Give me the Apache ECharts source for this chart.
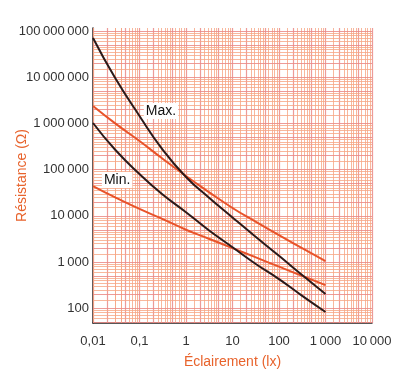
<!DOCTYPE html>
<html>
<head>
<meta charset="utf-8">
<script src="https://cdn.jsdelivr.net/npm/echarts@6/dist/echarts.min.js"></script>
<style>
  html, body { margin: 0; padding: 0; background: #fff; }
  #chart { width: 398px; height: 370px; }
</style>
</head>
<body>
<div id="chart"></div>
<script>
// éclairement (lx) en abscisse
var lux = [0.01, 0.03, 0.1, 0.3, 1, 3, 10, 30, 100, 300, 1000];
// courbes noires (max / min)
var maxDark = [70500000, 9600000, 1450000, 288000, 69200, 25700, 9230, 3670, 1365, 543, 204];
var minDark = [1020000, 269000, 80400, 30200, 12000, 5010, 2090, 944, 427, 193, 83];
// courbes orange (max / min)
var maxLight = [2380000, 1000000, 416000, 178000, 72600, 33500, 14800, 7670, 3840, 2040, 1050];
var minLight = [44200, 25100, 14100, 8710, 5010, 3240, 2000, 1290, 794, 513, 316];
// étiquettes Max. / Min.
var tagNames = ['Max.', 'Min.'];
var tagX = [0.29, 0.033];
var tagY = [1860000, 59600];

var xMin = 0.01, xMax = 10000;
var yMin = 48, yMax = 116000000;

// lignes du papier log
var paperSteps = [1, 1.5, 2, 2.5, 3, 3.5, 4, 4.5, 5, 6, 7, 8, 9];

function fmt(v) {
  if (v < 1) return String(v).replace('.', ',');
  var s = String(Math.round(v));
  var out = '';
  while (s.length > 3) {
    out = '\u2009' + s.slice(-3) + out;
    s = s.slice(0, -3);
  }
  return s + out;
}
function isPow(v) {
  var l = Math.log10(v);
  return Math.abs(l - Math.round(l)) < 0.001;
}

function paperLines(axis, lo, hi) {
  var res = [];
  for (var e = -3; e <= 9; e++) {
    paperSteps.forEach(function (s) {
      var v = s * Math.pow(10, e);
      if (v < lo * 0.999 || v > hi * 1.001) return;
      var strong = (s === 1 || s === 5 || s === 2);
      var d = {};
      d[axis] = v;
      d.lineStyle = {
        color: strong ? '#ea8a86' : '#f6a685',
        width: strong ? 1.2 : 1,
        type: 'solid',
        opacity: strong ? 0.85 : 0.8
      };
      res.push(d);
    });
  }
  return res;
}

function pairs(ys) {
  return lux.map(function (x, i) { return [x, ys[i]]; });
}

var chart = echarts.init(document.getElementById('chart'), null, { renderer: 'canvas' });

var curveBase = {
  type: 'line',
  smooth: 0.5,
  showSymbol: false,
  symbol: 'none',
  z: 5,
  silent: true
};

var option = {
  backgroundColor: '#fff',
  animation: false,
  grid: { left: 93, right: 26, top: 28, bottom: 47, outerBoundsMode: 'none', containLabel: false },
  xAxis: {
    type: 'log',
    logBase: 10,
    min: xMin,
    max: xMax,
    name: 'Éclairement (lx)',
    nameLocation: 'middle',
    nameGap: 32,
    nameMoveOverlap: false,
    nameTextStyle: { color: '#e8632c', fontSize: 14, fontFamily: 'Liberation Sans' },
    axisLine: { show: true, lineStyle: { color: '#222', width: 1.5 } },
    axisTick: { show: false },
    splitLine: { show: false },
    axisLabel: {
      color: '#333',
      fontSize: 13,
      fontFamily: 'Liberation Sans',
      margin: 12,
      hideOverlap: false,
      formatter: function (v) { return isPow(v) ? fmt(v) : ''; }
    }
  },
  yAxis: {
    type: 'log',
    logBase: 10,
    min: yMin,
    max: yMax,
    splitNumber: 7,
    name: 'Résistance (Ω)',
    nameLocation: 'middle',
    nameGap: 64,
    nameMoveOverlap: false,
    nameTextStyle: { color: '#e8632c', fontSize: 14, fontFamily: 'Liberation Sans' },
    axisLine: { show: true, lineStyle: { color: '#222', width: 1.5 } },
    axisTick: { show: false },
    splitLine: { show: false },
    axisLabel: {
      color: '#333',
      fontSize: 13,
      fontFamily: 'Liberation Sans',
      margin: 4,
      showMinLabel: false,
      showMaxLabel: false,
      formatter: function (v) { return isPow(v) ? fmt(v) : ''; }
    }
  },
  series: [
    {
      type: 'line',
      data: [],
      silent: true,
      z: 1,
      markLine: {
        silent: true,
        symbol: ['none', 'none'],
        label: { show: false },
        animation: false,
        data: paperLines('xAxis', xMin, xMax).concat(paperLines('yAxis', yMin, yMax))
      }
    },
    Object.assign({}, curveBase, {
      name: 'maxLight',
      data: pairs(maxLight),
      lineStyle: { color: '#e8532a', width: 2 }
    }),
    Object.assign({}, curveBase, {
      name: 'minLight',
      data: pairs(minLight),
      lineStyle: { color: '#e8532a', width: 2 }
    }),
    Object.assign({}, curveBase, {
      name: 'maxDark',
      data: pairs(maxDark),
      lineStyle: { color: '#2b1a1a', width: 2 },
      markPoint: {
        silent: true,
        symbolSize: 0,
        label: {
          show: true,
          position: 'inside',
          color: '#111',
          fontSize: 14,
          fontFamily: 'Liberation Sans',
          backgroundColor: '#fff',
          padding: [1, 2],
          formatter: '{b}'
        },
        data: tagNames.map(function (n, i) {
          return { name: n, coord: [tagX[i], tagY[i]] };
        })
      }
    }),
    Object.assign({}, curveBase, {
      name: 'minDark',
      data: pairs(minDark),
      lineStyle: { color: '#2b1a1a', width: 2 }
    })
  ]
};

chart.setOption(option);
</script>
</body>
</html>
